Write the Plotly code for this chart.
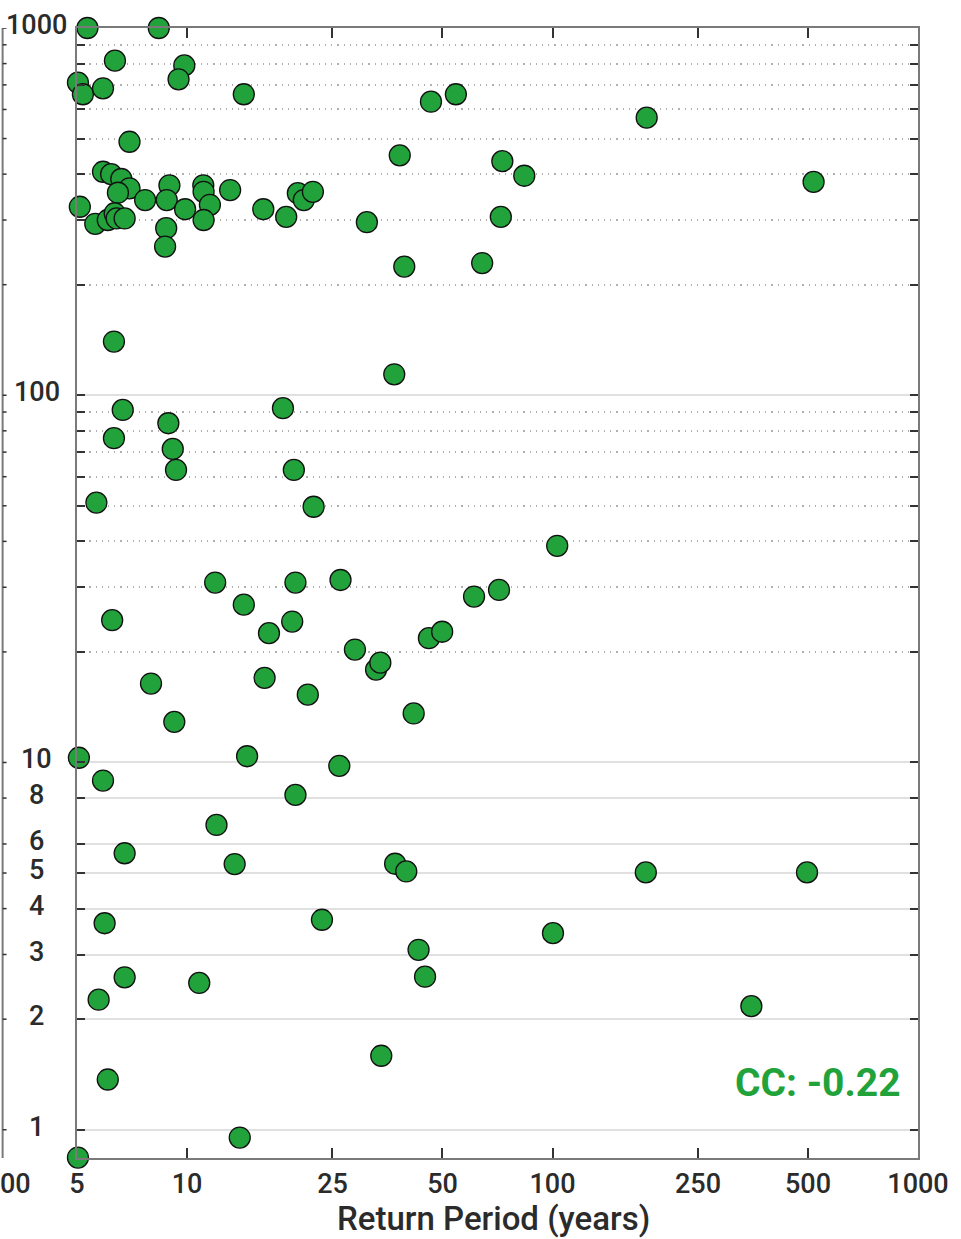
import numpy as np
import plotly.graph_objects as go

# ---- data (return period in years, value) ----
return_period = [
    5.34, 8.37, 6.35, 9.83, 9.48, 5.03, 5.19, 5.89, 14.3, 6.96,
    5.89, 6.2, 6.61, 6.96, 6.47, 5.09, 5.61, 6.07, 6.34, 6.42,
    6.75, 7.68, 8.95, 8.8, 8.77, 8.71, 9.88, 11.08, 11.1, 11.55,
    11.1, 13.12, 16.17, 18.68, 20.1, 20.87, 22.1, 31.05, 38.2, 39.3,
    46.5, 54.4, 64.2, 72.2, 72.9, 83.7, 181, 518,
    6.31, 6.67, 6.31, 8.89, 9.14, 9.33, 5.65, 18.3, 19.6, 22.2,
    36.9, 11.94, 19.8, 26.3, 6.24, 14.3, 16.76, 19.4, 28.8, 32.9,
    33.8, 45.9, 49.9, 61.0, 71.4, 103, 7.97, 16.3, 21.4, 9.23, 41.7,
    5.06, 14.6, 26.1, 5.89, 19.8, 12.04, 6.75, 13.5, 37.1, 39.8,
    180, 497, 5.95, 23.4, 100.3, 43.0, 44.8, 6.75, 5.73, 10.8,
    350, 34.0, 6.07, 13.94, 5.03,
]
values = [
    1000, 1000, 815, 791, 725, 710, 660, 685, 660, 490,
    406, 400, 388, 366, 356, 326, 293, 300, 313, 303,
    303, 340, 373, 340, 285, 254, 321, 373, 358, 330,
    300, 362, 321, 306, 355, 340, 358, 296, 450, 224,
    630, 660, 229, 306, 434, 396, 570, 381,
    140, 91.2, 76.4, 83.9, 71.4, 62.6, 51.0, 92.2, 62.6, 49.7,
    114, 30.9, 30.9, 31.4, 24.4, 26.9, 22.5, 24.2, 20.3, 17.9,
    18.7, 21.8, 22.7, 28.3, 29.5, 38.9, 16.4, 17.0, 15.3, 12.9, 13.6,
    10.3, 10.4, 9.79, 8.93, 8.16, 6.76, 5.66, 5.29, 5.30, 5.05,
    5.02, 5.02, 3.65, 3.73, 3.43, 3.09, 2.61, 2.60, 2.26, 2.51,
    2.17, 1.59, 1.37, 0.952, 0.84,
]

x_tick_vals = [5, 10, 25, 50, 100, 250, 500, 1000]
x_tick_text = ["5", "10", "25", "50", "100", "250", "500", "1000"]
y_solid_grid = [1, 2, 3, 4, 5, 6, 8, 10, 100, 1000]
y_dotted_grid = [20, 30, 40, 50, 60, 70, 80, 90, 200, 300, 400, 500, 600, 700, 800, 900]
y_label_vals = [1000, 100, 10, 8, 6, 5, 4, 3, 2, 1]
cc_text = "CC: -0.22"
x_title = "Return Period (years)"

FONT = "Roboto, Liberation Sans, sans-serif"
TXT = "#2b2b2b"
GREEN = "#22a23a"

fig = go.Figure()
fig.add_trace(go.Scatter(
    x=return_period, y=values, mode="markers", cliponaxis=False,
    marker=dict(size=21, color=GREEN, line=dict(color="#111111", width=1.3)),
    showlegend=False, hoverinfo="x+y",
))

W, H = 961, 1239
ML, MR, MT, MB = 77, 36, 28, 81
y_min_log = -0.077

fig.update_layout(
    width=W, height=H,
    margin=dict(l=ML, r=MR, t=MT, b=MB, pad=0),
    paper_bgcolor="white", plot_bgcolor="white",
    font=dict(family=FONT, color=TXT),
    xaxis=dict(
        type="log", range=[np.log10(5), 3],
        tickmode="array", tickvals=x_tick_vals, ticktext=x_tick_text,
        ticks="inside", ticklen=10, tickwidth=1.5, tickcolor="#333333",
        showline=True, linecolor="#7a7a7a", linewidth=2, mirror="ticks",
        showgrid=False, zeroline=False,
        tickfont=dict(family=FONT, size=27, color=TXT, weight=500),
        ticklabelstandoff=1,
    ),
    yaxis=dict(
        type="log", range=[y_min_log, 3],
        tickmode="array", tickvals=y_solid_grid, showticklabels=False,
        ticks="inside", ticklen=8, tickwidth=1.5, tickcolor="#333333",
        showline=True, linecolor="#7a7a7a", linewidth=2, mirror="ticks",
        showgrid=True, gridcolor="#e0e0e0", gridwidth=1.5, zeroline=False,
        minor=dict(
            tickmode="array", tickvals=y_dotted_grid,
            ticks="inside", ticklen=8, tickwidth=1.5, tickcolor="#333333",
            showgrid=True, gridcolor="#b0b0b0", gridwidth=1.5,
            griddash="1.2px,5px",
        ),
    ),
)

# y tick labels (centred, as in the reference)
for v in y_label_vals:
    fig.add_annotation(
        x=-0.0477, xref="paper", y=np.log10(v), yref="y",
        text=str(v), showarrow=False, xanchor="center", yanchor="middle",
        yshift=3, font=dict(family=FONT, size=27, color=TXT, weight=500),
    )

plot_w = W - ML - MR
plot_h = H - MT - MB

def px_x(p):
    return (p - ML) / plot_w

def px_y(p):
    return (H - MB - p) / plot_h

# x axis title
fig.add_annotation(
    x=px_x(497), xref="paper", y=px_y(1218), yref="paper",
    text=x_title, showarrow=False, xanchor="center", yanchor="middle",
    font=dict(family=FONT, size=33, color=TXT, weight=500),
)

# correlation coefficient
fig.add_annotation(
    x=px_x(910), xref="paper", y=px_y(1083), yref="paper",
    text=cc_text, showarrow=False, xanchor="right", yanchor="middle",
    font=dict(family=FONT, size=39, color=GREEN, weight="bold"),
)

# fragment of the neighbouring panel on the left
fig.add_annotation(
    x=px_x(-3), xref="paper", y=px_y(1184), yref="paper",
    text="00", showarrow=False, xanchor="left", yanchor="middle",
    font=dict(family=FONT, size=27, color=TXT, weight=500),
)
fig.add_shape(type="line", xref="paper", yref="paper",
              x0=px_x(2), x1=px_x(2), y0=0, y1=1,
              line=dict(color="#7a7a7a", width=2))
for v in y_solid_grid + y_dotted_grid:
    fig.add_shape(type="line", xref="paper", yref="y",
                  x0=px_x(2), x1=px_x(6), y0=v, y1=v,
                  line=dict(color="#333333", width=1.5))

fig.write_html("out.html", config={"displayModeBar": False},
               post_script="document.body.style.margin='0';")
